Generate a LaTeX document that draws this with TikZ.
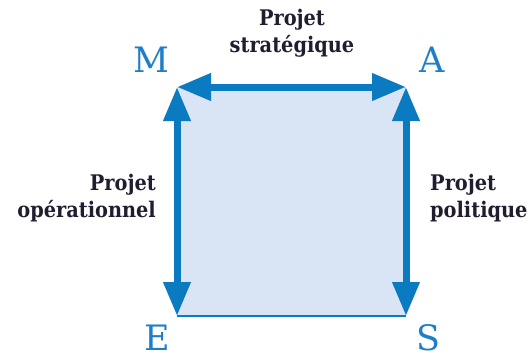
\documentclass[tikz,border=0pt]{standalone}
\usepackage{fontspec}
\setmainfont{DejaVu Serif}
\newfontfamily\condfont{DejaVu Serif Condensed}
\usetikzlibrary{arrows.meta}
\definecolor{arrowblue}{HTML}{0B7BC1}
\definecolor{letterblue}{HTML}{1E7FC8}
\definecolor{fillblue}{HTML}{D9E4F4}
\definecolor{textdark}{HTML}{221C30}
\tikzset{
  bigarrow/.style={line width=7pt, arrowblue, {Triangle[length=34pt,width=26pt]}-{Triangle[length=34pt,width=26pt]}},
  corner/.style={text=letterblue, font=\fontsize{35}{35}\selectfont, inner sep=0pt},
  lbl/.style={text=textdark, font=\condfont\bfseries\fontsize{21.5}{27}\selectfont, inner sep=0pt, align=center},
}
\begin{document}
\begin{tikzpicture}[x=1pt,y=-1pt]
\useasboundingbox (0,0) rectangle (531,356);
\coordinate (m) at (177,87);
\coordinate (a) at (406,87);
\coordinate (e) at (177,316);
\coordinate (s) at (406,316);
\fill[fillblue] (m) rectangle (s);
\draw[arrowblue, line width=1.8pt] (e) -- (s);
\draw[bigarrow] (m) -- (a);
\draw[bigarrow] (m) -- (e);
\draw[bigarrow] (a) -- (s);
\node[corner] (M) at (151.5,60) {M};
\node[corner] (A) at (432,60) {A};
\node[corner] (E) at (157,338) {E};
\node[corner] (S) at (428,338) {S};
\node[lbl] (strat) at (292,33) {Projet\\strat\'egique};
\node[lbl, align=right, anchor=east] (oper) at (156,198) {Projet\\op\'erationnel};
\node[lbl, align=left, anchor=west] (poli) at (430,198) {Projet\\politique};
\end{tikzpicture}
\end{document}
